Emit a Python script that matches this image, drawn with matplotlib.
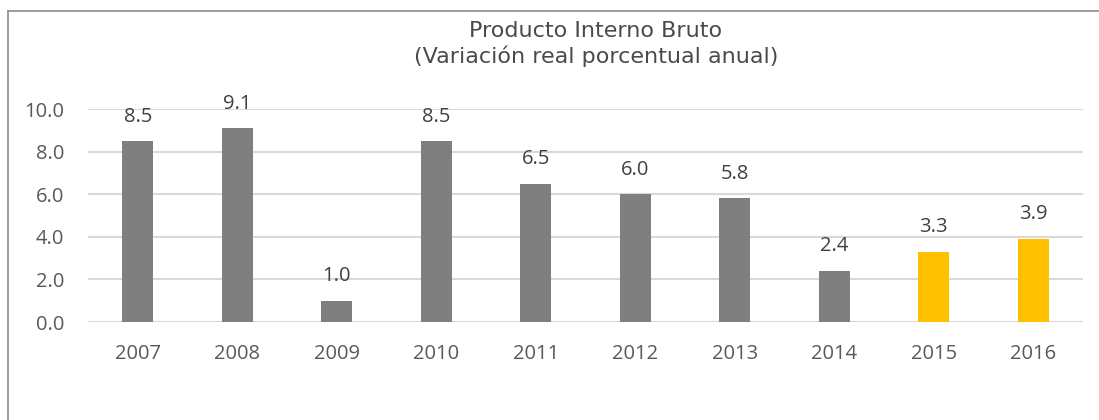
import matplotlib
matplotlib.use("Agg")
import matplotlib.pyplot as plt
from matplotlib.lines import Line2D

years = ["2007", "2008", "2009", "2010", "2011", "2012", "2013", "2014", "2015", "2016"]
values = [8.5, 9.1, 1.0, 8.5, 6.5, 6.0, 5.8, 2.4, 3.3, 3.9]
colors = ["#7f7f7f"] * 8 + ["#ffc000"] * 2
title_lines = ["Producto Interno Bruto", "(Variación real porcentual anual)"]
yticks = [0, 2, 4, 6, 8, 10]

plt.rcParams['font.family'] = ['Open Sans', 'DejaVu Sans']

fig = plt.figure(figsize=(10.99, 4.2), dpi=100)
ax = fig.add_axes([88 / 1099, 1 - 322 / 420, (1083 - 88) / 1099, (322 - 109) / 420])

x = list(range(len(years)))
bars = ax.bar(x, values, width=0.31, color=colors, zorder=3)
for xi, v in zip(x, values):
    ax.annotate(f"{v:.1f}", (xi, v), xytext=(0, 14), textcoords="offset points",
                ha="center", va="baseline", fontsize=14.5, color="#404040")

ax.set_xlim(-0.5, len(years) - 0.5)
ax.set_ylim(0, 10)
ax.set_yticks(yticks)
ax.set_yticklabels([f"{t:.1f}" for t in yticks])
ax.set_xticks(x)
ax.set_xticklabels(years)
ax.yaxis.grid(True, color="#d9d9d9", linewidth=1.5, zorder=0)
ax.tick_params(axis="both", length=0, labelsize=14.5, labelcolor="#595959")
ax.tick_params(axis="y", pad=17)
ax.tick_params(axis="x", pad=16)
for s in ax.spines.values():
    s.set_visible(False)

for line, base in zip(title_lines, [37, 63]):
    fig.text(596 / 1099, 1 - base / 420, line, ha="center", va="baseline",
             fontsize=16, color="#4a4a4a", family=["DejaVu Sans"])

# outer chart frame (left and top edges visible)
fig.add_artist(Line2D([8 / 1099, 8 / 1099], [0, 1 - 11 / 420], transform=fig.transFigure,
                      color="#8c8c8c", linewidth=1.2))
fig.add_artist(Line2D([8 / 1099, 1], [1 - 11 / 420, 1 - 11 / 420], transform=fig.transFigure,
                      color="#8c8c8c", linewidth=1.2))

fig.savefig("out.png", dpi=100)
